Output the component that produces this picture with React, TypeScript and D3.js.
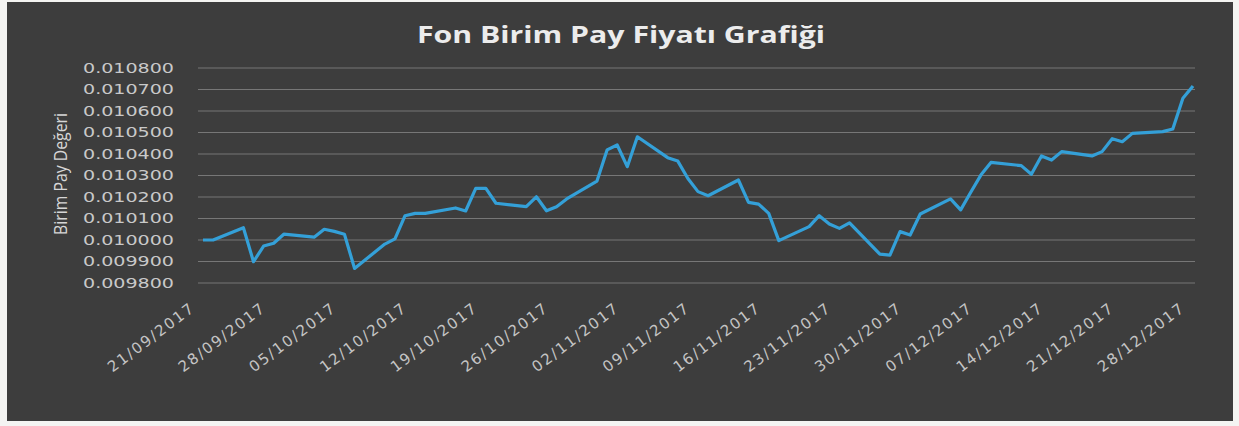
import * as d3 from "d3";
import React from "react";

// fund unit price, one value per trading day
const dates = [
  "21/09/2017", "22/09/2017", "25/09/2017", "26/09/2017", "27/09/2017", "28/09/2017", "29/09/2017",
  "02/10/2017", "03/10/2017", "04/10/2017", "05/10/2017", "06/10/2017",
  "09/10/2017", "10/10/2017", "11/10/2017", "12/10/2017", "13/10/2017",
  "16/10/2017", "17/10/2017", "18/10/2017", "19/10/2017", "20/10/2017",
  "23/10/2017", "24/10/2017", "25/10/2017", "26/10/2017", "27/10/2017",
  "30/10/2017", "31/10/2017", "01/11/2017", "02/11/2017", "03/11/2017",
  "06/11/2017", "07/11/2017", "08/11/2017", "09/11/2017", "10/11/2017",
  "13/11/2017", "14/11/2017", "15/11/2017", "16/11/2017", "17/11/2017",
  "20/11/2017", "21/11/2017", "22/11/2017", "23/11/2017", "24/11/2017",
  "27/11/2017", "28/11/2017", "29/11/2017", "30/11/2017", "01/12/2017",
  "04/12/2017", "05/12/2017", "06/12/2017", "07/12/2017", "08/12/2017",
  "11/12/2017", "12/12/2017", "13/12/2017", "14/12/2017", "15/12/2017",
  "18/12/2017", "19/12/2017", "20/12/2017", "21/12/2017", "22/12/2017",
  "25/12/2017", "26/12/2017", "27/12/2017", "28/12/2017",
];

const prices = [
  0.010000, 0.010000, 0.010057, 0.009899, 0.009972, 0.009985, 0.010027,
  0.010013, 0.010050, 0.010040, 0.010027, 0.009868,
  0.009981, 0.010005, 0.010113, 0.010124, 0.010124,
  0.010149, 0.010135, 0.010240, 0.010240, 0.010171,
  0.010155, 0.010201, 0.010136, 0.010155, 0.010191,
  0.010274, 0.010419, 0.010442, 0.010341, 0.010480,
  0.010383, 0.010367, 0.010286, 0.010225, 0.010206,
  0.010279, 0.010175, 0.010167, 0.010124, 0.009997,
  0.010062, 0.010113, 0.010074, 0.010054, 0.010080,
  0.009934, 0.009930, 0.010039, 0.010023, 0.010121,
  0.010191, 0.010140, 0.010222, 0.010302, 0.010361,
  0.010346, 0.010306, 0.010391, 0.010372, 0.010411,
  0.010391, 0.010411, 0.010471, 0.010457, 0.010496,
  0.010504, 0.010516, 0.010659, 0.010716,
];

const tickLabels = [
  "21/09/2017", "28/09/2017", "05/10/2017", "12/10/2017", "19/10/2017",
  "26/10/2017", "02/11/2017", "09/11/2017", "16/11/2017", "23/11/2017",
  "30/11/2017", "07/12/2017", "14/12/2017", "21/12/2017", "28/12/2017",
];

const yTicks = [
  0.0098, 0.0099, 0.0100, 0.0101, 0.0102, 0.0103,
  0.0104, 0.0105, 0.0106, 0.0107, 0.0108,
];

const title = "Fon Birim Pay Fiyatı Grafiği";
const yTitle = "Birim Pay Değeri";

const W = 1239;
const H = 426;

export default function App() {
  const parse = d3.timeParse("%d/%m/%Y");
  const pts = dates.map((d, i) => ({ date: parse(d) as Date, v: prices[i] }));

  const x = d3.scaleTime()
    .domain([pts[0].date, pts[pts.length - 1].date])
    .range([203, 1193]);
  const y = d3.scaleLinear()
    .domain([0.0098, 0.0108])
    .range([283, 68]);

  const line = d3.line<{ date: Date; v: number }>()
    .x(d => x(d.date))
    .y(d => y(d.v));

  const fmt = d3.format(".6f");
  const gridX0 = x.range()[0] - 5;
  const gridX1 = x.range()[1] + 2;

  return (
    <div>
      <style>{`body{margin:0;background:#f4f4f2}`}</style>
      <svg width={W} height={H} style={{ display: "block" }}>
        <rect x={7} y={2} width={1226} height={419} fill="#3d3d3d" />

        <text x={417} y={43} textLength={408} lengthAdjust="spacingAndGlyphs" fill="#ececec"
          fontFamily="Open Sans" fontWeight="bold" fontSize={24}>{title}</text>

        {yTicks.map(t => (
          <line key={t} x1={gridX0} x2={gridX1} y1={y(t)} y2={y(t)}
            stroke="#777777" strokeWidth={1} />
        ))}

        {yTicks.map(t => (
          <text key={"l" + t} x={83} y={y(t)} dy="0.35em" textLength={91}
            lengthAdjust="spacingAndGlyphs"
            fill="#c9c9c9" fontFamily="DejaVu Sans" fontSize={14}>{fmt(t)}</text>
        ))}

        <text transform="translate(67,235) rotate(-90)" textLength={122}
          lengthAdjust="spacingAndGlyphs"
          fill="#d6d6d6" fontFamily="Open Sans" fontSize={18}>{yTitle}</text>

        {tickLabels.map(s => (
          <text key={s} transform={`translate(${x(parse(s) as Date) - 7},310) rotate(-37)`}
            textAnchor="end" fill="#c4c4c4" fontFamily="DejaVu Sans" fontSize={15}
            letterSpacing={1.8}>{s}</text>
        ))}

        <path d={line(pts) || ""} fill="none" stroke="#34a0d8" strokeWidth={3.2}
          strokeLinejoin="round" />
      </svg>
    </div>
  );
}
